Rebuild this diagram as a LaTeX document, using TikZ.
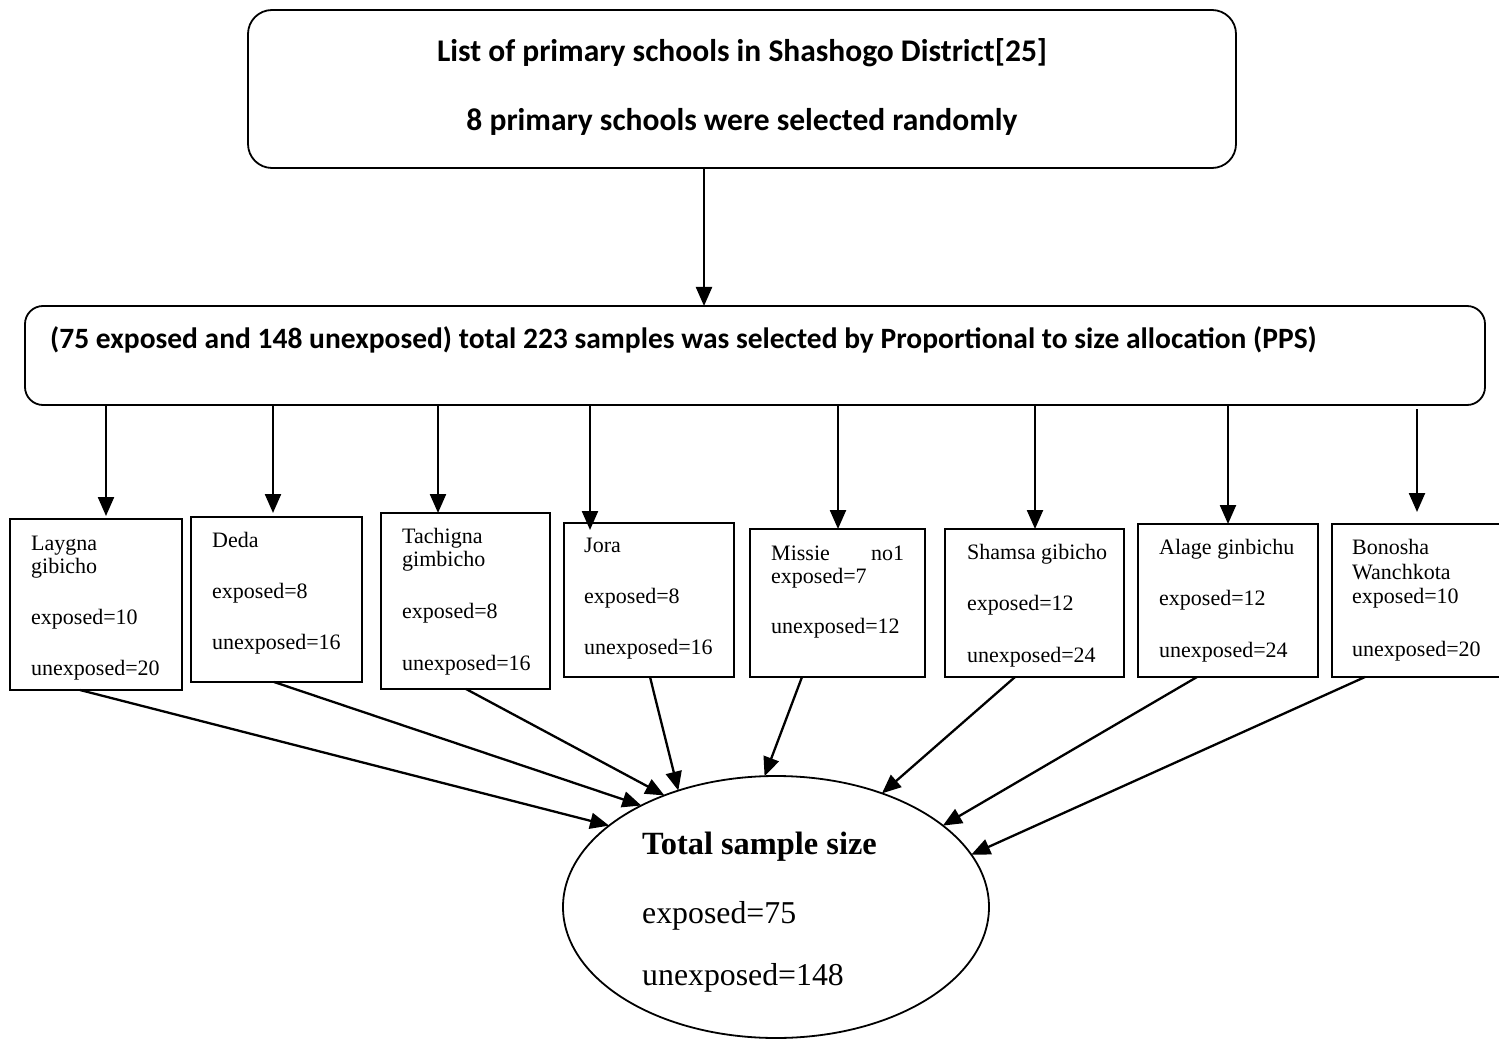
\documentclass[tikz,border=0pt]{standalone}
\usepackage{fontspec}
\setmainfont{Liberation Serif}
\newfontfamily\calfont{Carlito}
\usetikzlibrary{arrows.meta,shapes.geometric,calc}
\begin{document}
\begin{tikzpicture}[x=1pt,y=-1pt,
  arr/.style={line width=2.3pt,-{Triangle[length=19pt,width=16pt]}},
  rbox/.style={draw,line width=1.8pt,inner sep=0,outer sep=0},
  sbox/.style={draw,line width=2pt,inner sep=0,outer sep=0,anchor=north west},
  hd/.style={font=\calfont\bfseries\fontsize{29.5}{32}\selectfont,inner sep=0},
  hdtop/.style={font=\calfont\bfseries\fontsize{31.5}{34}\selectfont,inner sep=0},
  sm/.style={font=\fontsize{22}{25}\selectfont,inner sep=0,anchor=base west},
  big/.style={font=\fontsize{31.8}{36}\selectfont,inner sep=0,anchor=base west}]
\clip (0,0) rectangle (1499,1040);
% top box
\node[rbox,rounded corners=24pt,minimum width=988pt,minimum height=158pt] (top) at (742,89) {};
\node[hdtop,anchor=base] (top1) at (742,62) {List of primary schools in Shashogo District[25]};
\node[hdtop,anchor=base] (top2) at (742,131) {8 primary schools were selected randomly};
% middle box
\node[rbox,rounded corners=18pt,minimum width=1460pt,minimum height=99pt] (m) at (755,355.5) {};
\node[hd,anchor=base west] (mtxt) at (50,349) {(75 exposed and 148 unexposed) total 223 samples was selected by Proportional to size allocation (PPS)};
% school boxes
\node[sbox,minimum width=172pt,minimum height=171pt] (b1) at (10,519) {};
\node[sbox,minimum width=171pt,minimum height=165pt] (b2) at (191,517) {};
\node[sbox,minimum width=169pt,minimum height=176pt] (b3) at (381,513) {};
\node[sbox,minimum width=170pt,minimum height=154pt] (b4) at (564,523) {};
\node[sbox,minimum width=175pt,minimum height=148pt] (b5) at (750,529) {};
\node[sbox,minimum width=179pt,minimum height=148pt] (b6) at (945,529) {};
\node[sbox,minimum width=180pt,minimum height=153pt] (b7) at (1138,524) {};
\node[sbox,minimum width=180pt,minimum height=153pt] (b8) at (1332,524) {};
% texts
\node[sm] (t1a) at (31,550) {Laygna};
\node[sm] (t1b) at (31,573) {gibicho};
\node[sm] (t1c) at (31,624) {exposed=10};
\node[sm] (t1d) at (31,675) {unexposed=20};
\node[sm] (t2a) at (212,547) {Deda};
\node[sm] (t2c) at (212,598) {exposed=8};
\node[sm] (t2d) at (212,649) {unexposed=16};
\node[sm] (t3a) at (402,543) {Tachigna};
\node[sm] (t3b) at (402,566) {gimbicho};
\node[sm] (t3c) at (402,618) {exposed=8};
\node[sm] (t3d) at (402,670) {unexposed=16};
\node[sm] (t4a) at (584,552) {Jora};
\node[sm] (t4c) at (584,603) {exposed=8};
\node[sm] (t4d) at (584,654) {unexposed=16};
\node[sm] (t5a) at (771,560) {\makebox[133pt][l]{Missie\hfill no1}};
\node[sm] (t5c) at (771,583) {exposed=7};
\node[sm] (t5d) at (771,633) {unexposed=12};
\node[sm] (t6a) at (967,559) {Shamsa gibicho};
\node[sm] (t6c) at (967,610) {exposed=12};
\node[sm] (t6d) at (967,662) {unexposed=24};
\node[sm] (t7a) at (1159,554) {Alage ginbichu};
\node[sm] (t7c) at (1159,605) {exposed=12};
\node[sm] (t7d) at (1159,657) {unexposed=24};
\node[sm] (t8a) at (1352,554) {Bonosha};
\node[sm] (t8b) at (1352,579) {Wanchkota};
\node[sm] (t8c) at (1352,603) {exposed=10};
\node[sm] (t8d) at (1352,656) {unexposed=20};
% ellipse
\node[draw,ellipse,line width=1.8pt,minimum width=426pt,minimum height=262pt,inner sep=0,outer sep=0] (e) at (776,907) {};
\node[big,font=\fontsize{32.4}{36}\selectfont\bfseries] (e1) at (642,854) {Total sample size};
\node[big] (e2) at (642,923) {exposed=75};
\node[big] (e3) at (642,985) {unexposed=148};
% arrows top -> middle
\coordinate (a0) at (704,0);
\draw[arr] (top.south -| a0) -- (m.north -| a0);
% arrows middle -> boxes
\coordinate (a1) at (106,0);
\coordinate (a2) at (273,0);
\coordinate (a3) at (438,0);
\coordinate (a4) at (590,0);
\coordinate (a5) at (838,0);
\coordinate (a6) at (1035,0);
\coordinate (a7) at (1228,0);
\coordinate (a8) at (1417,0);
\draw[arr,shorten >=3pt] (m.south -| a1) -- (b1.north -| a1);
\draw[arr,shorten >=4pt] (m.south -| a2) -- (b2.north -| a2);
\draw[arr] (m.south -| a3) -- (b3.north -| a3);
\draw[arr,shorten >=-7pt] (m.south -| a4) -- (b4.north -| a4);
\draw[arr] (m.south -| a5) -- (b5.north -| a5);
\draw[arr] (m.south -| a6) -- (b6.north -| a6);
\draw[arr] (m.south -| a7) -- (b7.north -| a7);
\draw[arr,shorten <=4pt,shorten >=12pt] (m.south -| a8) -- (b8.north -| a8);
% arrows boxes -> ellipse
\draw[arr] ([xshift=70pt]b1.south west) -- (e.154.8);
\draw[arr] ([xshift=83pt]b2.south west) -- (e.143.3);
\draw[arr] ([xshift=85pt]b3.south west) -- (e.135.7);
\draw[arr] ([xshift=86pt]b4.south west) -- (e.130.1);
\draw[arr] ([xshift=52pt]b5.south west) -- (e.95.7);
\draw[arr] ([xshift=70pt]b6.south west) -- (e.47.1);
\draw[arr] ([xshift=59pt]b7.south west) -- (e.26.4);
\draw[arr] ([xshift=33pt]b8.south west) -- (e.15.3);
\end{tikzpicture}
\end{document}
